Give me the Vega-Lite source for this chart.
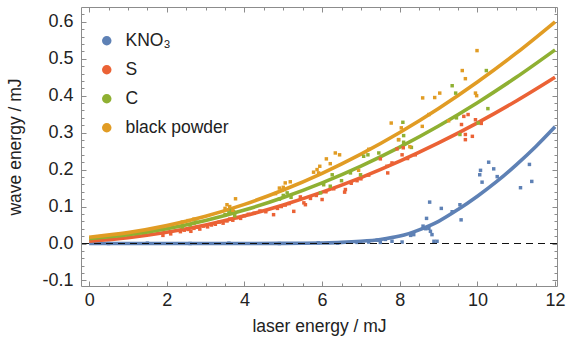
{
  "$schema": "https://vega.github.io/schema/vega-lite/v6.json",
  "width": 476,
  "height": 279,
  "autosize": {"type": "none"},
  "padding": {"left": 81, "top": 7, "right": 9, "bottom": 56},
  "background": "white",
  "config": {
    "font": "Liberation Sans",
    "view": {"stroke": "#8c8c8c", "strokeWidth": 1},
    "axis": {"grid": false, "labelFont": "Liberation Sans", "titleFont": "Liberation Sans", "labelColor": "#222222", "titleColor": "#222222", "titleFontWeight": "normal"},
    "legend": {"labelFont": "Liberation Sans"}
  },
  "datasets": {
    "curves": [
      {"x": 0, "y": 0, "series": "KNO₃"}, {"x": 1, "y": 0, "series": "KNO₃"}, {"x": 2, "y": 0, "series": "KNO₃"}, {"x": 3, "y": 0, "series": "KNO₃"}, {"x": 4, "y": 0, "series": "KNO₃"}, {"x": 5, "y": 0.0003, "series": "KNO₃"}, {"x": 5.5, "y": 0.0007, "series": "KNO₃"}, {"x": 6, "y": 0.0015, "series": "KNO₃"}, {"x": 6.5, "y": 0.003, "series": "KNO₃"}, {"x": 7, "y": 0.006, "series": "KNO₃"}, {"x": 7.5, "y": 0.011, "series": "KNO₃"}, {"x": 8, "y": 0.02, "series": "KNO₃"}, {"x": 8.5, "y": 0.037, "series": "KNO₃"}, {"x": 9, "y": 0.06, "series": "KNO₃"}, {"x": 9.5, "y": 0.092, "series": "KNO₃"}, {"x": 10, "y": 0.128, "series": "KNO₃"}, {"x": 10.5, "y": 0.168, "series": "KNO₃"}, {"x": 11, "y": 0.213, "series": "KNO₃"}, {"x": 11.5, "y": 0.262, "series": "KNO₃"}, {"x": 12, "y": 0.316, "series": "KNO₃"},
      {"x": 0, "y": 0.006, "series": "S"}, {"x": 1, "y": 0.0158, "series": "S"}, {"x": 2, "y": 0.0305, "series": "S"}, {"x": 3, "y": 0.0502, "series": "S"}, {"x": 4, "y": 0.0748, "series": "S"}, {"x": 5, "y": 0.1044, "series": "S"}, {"x": 6, "y": 0.1389, "series": "S"}, {"x": 7, "y": 0.1784, "series": "S"}, {"x": 8, "y": 0.2228, "series": "S"}, {"x": 9, "y": 0.2722, "series": "S"}, {"x": 10, "y": 0.3265, "series": "S"}, {"x": 11, "y": 0.3858, "series": "S"}, {"x": 12, "y": 0.45, "series": "S"},
      {"x": 0, "y": 0.013, "series": "C"}, {"x": 1, "y": 0.0237, "series": "C"}, {"x": 2, "y": 0.0402, "series": "C"}, {"x": 3, "y": 0.0625, "series": "C"}, {"x": 4, "y": 0.0906, "series": "C"}, {"x": 5, "y": 0.1245, "series": "C"}, {"x": 6, "y": 0.1642, "series": "C"}, {"x": 7, "y": 0.2097, "series": "C"}, {"x": 8, "y": 0.261, "series": "C"}, {"x": 9, "y": 0.318, "series": "C"}, {"x": 10, "y": 0.381, "series": "C"}, {"x": 11, "y": 0.4497, "series": "C"}, {"x": 12, "y": 0.524, "series": "C"},
      {"x": 0, "y": 0.017, "series": "black powder"}, {"x": 1, "y": 0.0294, "series": "black powder"}, {"x": 2, "y": 0.0484, "series": "black powder"}, {"x": 3, "y": 0.0739, "series": "black powder"}, {"x": 4, "y": 0.106, "series": "black powder"}, {"x": 5, "y": 0.1448, "series": "black powder"}, {"x": 6, "y": 0.19, "series": "black powder"}, {"x": 7, "y": 0.2419, "series": "black powder"}, {"x": 8, "y": 0.3004, "series": "black powder"}, {"x": 9, "y": 0.3654, "series": "black powder"}, {"x": 10, "y": 0.437, "series": "black powder"}, {"x": 11, "y": 0.515, "series": "black powder"}, {"x": 12, "y": 0.6, "series": "black powder"}
    ],
    "points": [
      {"x": 0.5, "y": 0.0, "series": "KNO₃"}, {"x": 1.5, "y": 0.001, "series": "KNO₃"}, {"x": 2.6, "y": 0.0, "series": "KNO₃"}, {"x": 3.6, "y": 0.001, "series": "KNO₃"}, {"x": 4.9, "y": 0.0, "series": "KNO₃"}, {"x": 5.9, "y": 0.002, "series": "KNO₃"}, {"x": 6.4, "y": 0.001, "series": "KNO₃"}, {"x": 6.9, "y": 0.003, "series": "KNO₃"}, {"x": 7.2, "y": 0.004, "series": "KNO₃"}, {"x": 7.42, "y": 0.009, "series": "KNO₃"}, {"x": 7.5, "y": 0.003, "series": "KNO₃"}, {"x": 7.63, "y": 0.011, "series": "KNO₃"}, {"x": 7.8, "y": 0.006, "series": "KNO₃"}, {"x": 8.06, "y": 0.004, "series": "KNO₃"}, {"x": 8.28, "y": 0.022, "series": "KNO₃"}, {"x": 8.36, "y": 0.024, "series": "KNO₃"}, {"x": 8.6, "y": 0.047, "series": "KNO₃"}, {"x": 8.67, "y": 0.04, "series": "KNO₃"}, {"x": 8.69, "y": 0.068, "series": "KNO₃"}, {"x": 8.75, "y": 0.041, "series": "KNO₃"}, {"x": 8.77, "y": 0.112, "series": "KNO₃"}, {"x": 8.79, "y": 0.033, "series": "KNO₃"}, {"x": 8.83, "y": 0.024, "series": "KNO₃"}, {"x": 8.88, "y": 0.006, "series": "KNO₃"}, {"x": 8.96, "y": 0.006, "series": "KNO₃"}, {"x": 9.07, "y": 0.095, "series": "KNO₃"}, {"x": 9.35, "y": 0.086, "series": "KNO₃"}, {"x": 9.55, "y": 0.105, "series": "KNO₃"}, {"x": 9.58, "y": 0.064, "series": "KNO₃"}, {"x": 10.06, "y": 0.186, "series": "KNO₃"}, {"x": 10.08, "y": 0.198, "series": "KNO₃"}, {"x": 10.12, "y": 0.166, "series": "KNO₃"}, {"x": 10.29, "y": 0.22, "series": "KNO₃"}, {"x": 10.42, "y": 0.202, "series": "KNO₃"}, {"x": 10.51, "y": 0.181, "series": "KNO₃"}, {"x": 11.11, "y": 0.151, "series": "KNO₃"}, {"x": 11.34, "y": 0.214, "series": "KNO₃"}, {"x": 11.4, "y": 0.168, "series": "KNO₃"},
      {"x": 1.9, "y": 0.022, "series": "S"}, {"x": 2.1, "y": 0.026, "series": "S"}, {"x": 2.35, "y": 0.032, "series": "S"}, {"x": 2.45, "y": 0.036, "series": "S"}, {"x": 2.55, "y": 0.038, "series": "S"}, {"x": 2.62, "y": 0.033, "series": "S"}, {"x": 2.7, "y": 0.041, "series": "S"}, {"x": 2.78, "y": 0.044, "series": "S"}, {"x": 2.85, "y": 0.039, "series": "S"}, {"x": 2.95, "y": 0.047, "series": "S"}, {"x": 3.05, "y": 0.045, "series": "S"}, {"x": 3.15, "y": 0.05, "series": "S"}, {"x": 3.25, "y": 0.052, "series": "S"}, {"x": 3.35, "y": 0.058, "series": "S"}, {"x": 3.45, "y": 0.055, "series": "S"}, {"x": 3.55, "y": 0.061, "series": "S"}, {"x": 3.62, "y": 0.066, "series": "S"}, {"x": 3.7, "y": 0.063, "series": "S"}, {"x": 3.8, "y": 0.07, "series": "S"}, {"x": 3.9, "y": 0.068, "series": "S"}, {"x": 4.0, "y": 0.075, "series": "S"}, {"x": 4.1, "y": 0.079, "series": "S"}, {"x": 4.25, "y": 0.082, "series": "S"}, {"x": 4.4, "y": 0.088, "series": "S"}, {"x": 4.55, "y": 0.086, "series": "S"}, {"x": 4.75, "y": 0.078, "series": "S"}, {"x": 4.85, "y": 0.095, "series": "S"}, {"x": 4.95, "y": 0.1, "series": "S"}, {"x": 5.05, "y": 0.104, "series": "S"}, {"x": 5.15, "y": 0.108, "series": "S"}, {"x": 5.27, "y": 0.087, "series": "S"}, {"x": 5.44, "y": 0.126, "series": "S"}, {"x": 5.53, "y": 0.11, "series": "S"}, {"x": 5.57, "y": 0.105, "series": "S"}, {"x": 5.7, "y": 0.122, "series": "S"}, {"x": 5.85, "y": 0.13, "series": "S"}, {"x": 6.0, "y": 0.119, "series": "S"}, {"x": 6.1, "y": 0.14, "series": "S"}, {"x": 6.3, "y": 0.148, "series": "S"}, {"x": 6.58, "y": 0.139, "series": "S"}, {"x": 6.6, "y": 0.146, "series": "S"}, {"x": 6.75, "y": 0.163, "series": "S"}, {"x": 6.9, "y": 0.17, "series": "S"}, {"x": 7.0, "y": 0.175, "series": "S"}, {"x": 7.2, "y": 0.185, "series": "S"}, {"x": 7.5, "y": 0.229, "series": "S"}, {"x": 7.67, "y": 0.209, "series": "S"}, {"x": 7.69, "y": 0.191, "series": "S"}, {"x": 7.8, "y": 0.218, "series": "S"}, {"x": 7.93, "y": 0.256, "series": "S"}, {"x": 8.06, "y": 0.24, "series": "S"}, {"x": 8.09, "y": 0.259, "series": "S"}, {"x": 8.2, "y": 0.23, "series": "S"}, {"x": 8.4, "y": 0.24, "series": "S"}, {"x": 9.59, "y": 0.322, "series": "S"}, {"x": 9.65, "y": 0.344, "series": "S"}, {"x": 9.69, "y": 0.295, "series": "S"}, {"x": 9.69, "y": 0.281, "series": "S"}, {"x": 9.76, "y": 0.349, "series": "S"}, {"x": 9.87, "y": 0.29, "series": "S"}, {"x": 9.95, "y": 0.335, "series": "S"}, {"x": 10.1, "y": 0.325, "series": "S"},
      {"x": 2.4, "y": 0.045, "series": "C"}, {"x": 2.6, "y": 0.05, "series": "C"}, {"x": 2.7, "y": 0.055, "series": "C"}, {"x": 2.75, "y": 0.058, "series": "C"}, {"x": 3.5, "y": 0.078, "series": "C"}, {"x": 3.6, "y": 0.083, "series": "C"}, {"x": 3.66, "y": 0.09, "series": "C"}, {"x": 3.72, "y": 0.086, "series": "C"}, {"x": 3.75, "y": 0.075, "series": "C"}, {"x": 4.9, "y": 0.12, "series": "C"}, {"x": 5.0, "y": 0.13, "series": "C"}, {"x": 5.1, "y": 0.137, "series": "C"}, {"x": 5.2, "y": 0.125, "series": "C"}, {"x": 5.96, "y": 0.137, "series": "C"}, {"x": 6.04, "y": 0.159, "series": "C"}, {"x": 6.21, "y": 0.155, "series": "C"}, {"x": 6.26, "y": 0.186, "series": "C"}, {"x": 6.5, "y": 0.17, "series": "C"}, {"x": 6.73, "y": 0.191, "series": "C"}, {"x": 6.99, "y": 0.186, "series": "C"}, {"x": 7.07, "y": 0.236, "series": "C"}, {"x": 7.18, "y": 0.24, "series": "C"}, {"x": 7.46, "y": 0.245, "series": "C"}, {"x": 7.97, "y": 0.281, "series": "C"}, {"x": 8.08, "y": 0.328, "series": "C"}, {"x": 8.1, "y": 0.274, "series": "C"}, {"x": 8.1, "y": 0.292, "series": "C"}, {"x": 8.3, "y": 0.26, "series": "C"}, {"x": 9.35, "y": 0.427, "series": "C"}, {"x": 9.44, "y": 0.407, "series": "C"}, {"x": 9.46, "y": 0.34, "series": "C"}, {"x": 9.55, "y": 0.295, "series": "C"}, {"x": 10.02, "y": 0.326, "series": "C"}, {"x": 10.23, "y": 0.468, "series": "C"}, {"x": 10.27, "y": 0.365, "series": "C"},
      {"x": 2.4, "y": 0.058, "series": "black powder"}, {"x": 2.55, "y": 0.062, "series": "black powder"}, {"x": 2.7, "y": 0.066, "series": "black powder"}, {"x": 3.5, "y": 0.095, "series": "black powder"}, {"x": 3.55, "y": 0.105, "series": "black powder"}, {"x": 3.62, "y": 0.1, "series": "black powder"}, {"x": 3.7, "y": 0.09, "series": "black powder"}, {"x": 3.77, "y": 0.121, "series": "black powder"}, {"x": 4.8, "y": 0.135, "series": "black powder"}, {"x": 4.9, "y": 0.15, "series": "black powder"}, {"x": 4.97, "y": 0.144, "series": "black powder"}, {"x": 5.0, "y": 0.152, "series": "black powder"}, {"x": 5.05, "y": 0.164, "series": "black powder"}, {"x": 5.18, "y": 0.167, "series": "black powder"}, {"x": 5.78, "y": 0.193, "series": "black powder"}, {"x": 5.87, "y": 0.2, "series": "black powder"}, {"x": 5.91, "y": 0.191, "series": "black powder"}, {"x": 5.94, "y": 0.209, "series": "black powder"}, {"x": 6.11, "y": 0.229, "series": "black powder"}, {"x": 6.21, "y": 0.216, "series": "black powder"}, {"x": 6.34, "y": 0.245, "series": "black powder"}, {"x": 6.45, "y": 0.24, "series": "black powder"}, {"x": 6.94, "y": 0.198, "series": "black powder"}, {"x": 7.2, "y": 0.255, "series": "black powder"}, {"x": 7.78, "y": 0.326, "series": "black powder"}, {"x": 7.97, "y": 0.281, "series": "black powder"}, {"x": 8.04, "y": 0.313, "series": "black powder"}, {"x": 8.26, "y": 0.262, "series": "black powder"}, {"x": 8.58, "y": 0.317, "series": "black powder"}, {"x": 8.59, "y": 0.394, "series": "black powder"}, {"x": 8.75, "y": 0.349, "series": "black powder"}, {"x": 8.9, "y": 0.395, "series": "black powder"}, {"x": 9.03, "y": 0.407, "series": "black powder"}, {"x": 9.26, "y": 0.332, "series": "black powder"}, {"x": 9.61, "y": 0.468, "series": "black powder"}, {"x": 9.69, "y": 0.446, "series": "black powder"}, {"x": 9.95, "y": 0.407, "series": "black powder"}, {"x": 9.98, "y": 0.4, "series": "black powder"}, {"x": 9.99, "y": 0.522, "series": "black powder"}
    ]
  },
  "resolve": {"axis": {"x": "independent", "y": "independent"}},
  "layer": [
    {
      "data": {"name": "curves"},
      "mark": {"type": "line", "strokeWidth": 3.6, "interpolate": "monotone"},
      "encoding": {
        "x": {"field": "x", "type": "quantitative", "scale": {"domain": [-0.21, 12.05], "nice": false, "zero": false},
          "axis": {"orient": "bottom", "values": [0, 2, 4, 6, 8, 10, 12], "ticks": false, "domain": false, "labelFontSize": 18, "labelPadding": 5, "title": "laser energy / mJ", "titleFontSize": 17.5, "titlePadding": 8}},
        "y": {"field": "y", "type": "quantitative", "scale": {"domain": [-0.115, 0.64], "nice": false, "zero": false},
          "axis": {"orient": "left", "values": [-0.1, 0, 0.1, 0.2, 0.3, 0.4, 0.5, 0.6], "ticks": false, "domain": false, "labelFontSize": 18, "labelPadding": 8, "labelExpr": "replace(format(datum.value, '.1f'), '−', '-')", "title": "wave energy / mJ", "titleFontSize": 17.5, "titlePadding": 17}},
        "stroke": {"field": "series", "type": "nominal", "scale": {"domain": ["S", "KNO₃", "C", "black powder"], "range": ["#EB6235", "#5E81B5", "#8FB032", "#E19C24"]}, "legend": null},
        "detail": {"field": "series"}
      }
    },
    {
      "data": {"name": "points"},
      "transform": [{"filter": "datum.series === 'KNO₃'"}],
      "mark": {"type": "point", "shape": "square", "filled": true, "size": 12, "opacity": 1},
      "encoding": {
        "x": {"field": "x", "type": "quantitative", "axis": {"orient": "bottom", "values": [0, 2, 4, 6, 8, 10, 12], "labels": false, "domain": false, "title": null, "tickSize": -5, "tickColor": "#8c8c8c"}},
        "y": {"field": "y", "type": "quantitative", "axis": {"orient": "left", "values": [-0.1, 0, 0.1, 0.2, 0.3, 0.4, 0.5, 0.6], "labels": false, "domain": false, "title": null, "tickSize": -5, "tickColor": "#8c8c8c"}},
        "color": {"field": "series", "type": "nominal", "scale": {"domain": ["KNO₃", "S", "C", "black powder"], "range": ["#5E81B5", "#EB6235", "#8FB032", "#E19C24"]}, "legend": {"orient": "none", "legendX": 17, "legendY": 25, "title": null, "symbolType": "circle", "symbolSize": 90, "symbolOpacity": 1, "symbolStrokeWidth": 0, "labelFontSize": 17.5, "labelColor": "#222222", "labelOffset": 10, "rowPadding": 10, "padding": 0}}
      }
    },
    {
      "data": {"name": "points"},
      "transform": [{"filter": "datum.series === 'S'"}],
      "mark": {"type": "point", "shape": "square", "filled": true, "size": 12, "opacity": 1},
      "encoding": {
        "x": {"field": "x", "type": "quantitative", "axis": {"orient": "bottom", "values": [0, 0.5, 1, 1.5, 2, 2.5, 3, 3.5, 4, 4.5, 5, 5.5, 6, 6.5, 7, 7.5, 8, 8.5, 9, 9.5, 10, 10.5, 11, 11.5, 12], "labels": false, "domain": false, "title": null, "tickSize": -3, "tickColor": "#8c8c8c"}},
        "y": {"field": "y", "type": "quantitative", "axis": {"orient": "left", "values": [-0.1, -0.08, -0.06, -0.04, -0.02, 0, 0.02, 0.04, 0.06, 0.08, 0.1, 0.12, 0.14, 0.16, 0.18, 0.2, 0.22, 0.24, 0.26, 0.28, 0.3, 0.32, 0.34, 0.36, 0.38, 0.4, 0.42, 0.44, 0.46, 0.48, 0.5, 0.52, 0.54, 0.56, 0.58, 0.6, 0.62], "labels": false, "domain": false, "title": null, "tickSize": -3, "tickColor": "#8c8c8c"}},
        "color": {"field": "series", "type": "nominal"}
      }
    },
    {
      "data": {"name": "points"},
      "transform": [{"filter": "datum.series === 'C'"}],
      "mark": {"type": "point", "shape": "square", "filled": true, "size": 12, "opacity": 1},
      "encoding": {
        "x": {"field": "x", "type": "quantitative", "axis": {"orient": "top", "values": [0, 2, 4, 6, 8, 10, 12], "labels": false, "domain": false, "title": null, "tickSize": -5, "tickColor": "#8c8c8c"}},
        "y": {"field": "y", "type": "quantitative", "axis": {"orient": "right", "values": [-0.1, 0, 0.1, 0.2, 0.3, 0.4, 0.5, 0.6], "labels": false, "domain": false, "title": null, "tickSize": -5, "tickColor": "#8c8c8c"}},
        "color": {"field": "series", "type": "nominal"}
      }
    },
    {
      "data": {"name": "points"},
      "transform": [{"filter": "datum.series === 'black powder'"}],
      "mark": {"type": "point", "shape": "square", "filled": true, "size": 12, "opacity": 1},
      "encoding": {
        "x": {"field": "x", "type": "quantitative", "axis": {"orient": "top", "values": [0, 0.5, 1, 1.5, 2, 2.5, 3, 3.5, 4, 4.5, 5, 5.5, 6, 6.5, 7, 7.5, 8, 8.5, 9, 9.5, 10, 10.5, 11, 11.5, 12], "labels": false, "domain": false, "title": null, "tickSize": -3, "tickColor": "#8c8c8c"}},
        "y": {"field": "y", "type": "quantitative", "axis": {"orient": "right", "values": [-0.1, -0.08, -0.06, -0.04, -0.02, 0, 0.02, 0.04, 0.06, 0.08, 0.1, 0.12, 0.14, 0.16, 0.18, 0.2, 0.22, 0.24, 0.26, 0.28, 0.3, 0.32, 0.34, 0.36, 0.38, 0.4, 0.42, 0.44, 0.46, 0.48, 0.5, 0.52, 0.54, 0.56, 0.58, 0.6, 0.62], "labels": false, "domain": false, "title": null, "tickSize": -3, "tickColor": "#8c8c8c"}},
        "color": {"field": "series", "type": "nominal"}
      }
    },
    {
      "data": {"values": [{"y": 0}]},
      "mark": {"type": "rule", "color": "#111111", "strokeWidth": 1, "strokeDash": [7, 5]},
      "encoding": {"y": {"field": "y", "type": "quantitative", "axis": null}}
    }
  ]
}
